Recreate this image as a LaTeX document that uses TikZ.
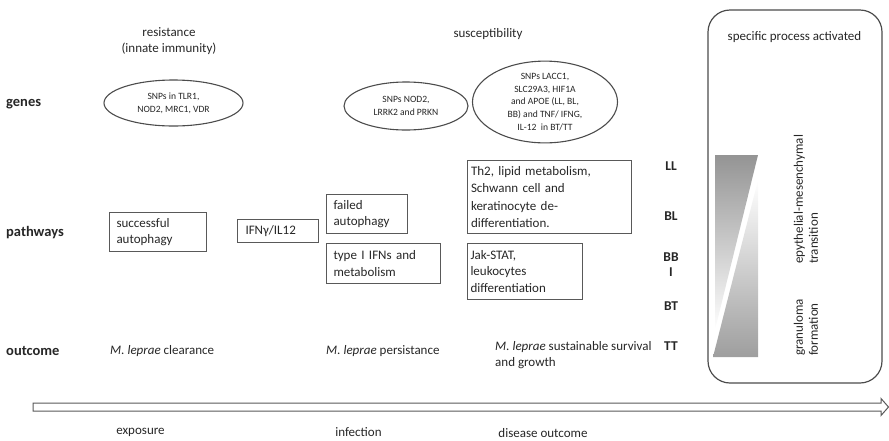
\documentclass[tikz,border=0pt]{standalone}
\usepackage{fontspec}
\setmainfont{Carlito}
\usetikzlibrary{shapes.geometric}
\begin{document}
\begin{tikzpicture}[x=1pt,y=-1pt,
  every node/.style={text=black!85, inner sep=0pt},
  txt/.style={font=\fontsize{13}{16.5}\selectfont},
  rowlbl/.style={font=\fontsize{14.5}{17}\selectfont\bfseries, anchor=west},
  formlbl/.style={font=\fontsize{13.5}{16}\selectfont\bfseries},
  gene/.style={draw=black!70, line width=1.1pt, ellipse, inner sep=0pt,
     font=\fontsize{9.6}{12.8}\selectfont, align=center},
  pbox/.style={draw=black!65, line width=1pt, font=\fontsize{13}{16.5}\selectfont,
     align=left, anchor=north west, inner ysep=0pt}
]
\useasboundingbox (0,0) rectangle (889,440);

% column headers
\node[txt, align=center] (res) at (169,41) {resistance\\(innate immunity)};
\node[txt] (sus) at (488,34) {susceptibility};

% right rounded panel
\draw[black!70, line width=1.2pt, rounded corners=22pt] (708,10) rectangle (882,383);
\node[txt] (spec) at (794.5,37) {specific process activated};

% gradient triangles
\shade[top color=black!42, bottom color=white] (715,155) -- (758,155) -- (715,330) -- cycle;
\shade[top color=white, bottom color=black!38] (758,180) -- (758,357) -- (713,357) -- cycle;

\node[txt, rotate=90, anchor=west, align=left, font=\fontsize{13}{15}\selectfont] (emt) at (806,264) {epythelial-mesenchymal\\transition};
\node[txt, rotate=90, anchor=west, align=left, font=\fontsize{13}{15}\selectfont] (gran) at (806,356) {granuloma\\formation};

% row labels
\node[rowlbl] (genes) at (6,104) {genes};
\node[rowlbl] (path) at (6,233) {pathways};
\node[rowlbl] (outc) at (6,351) {outcome};

% gene ellipses
\node[gene, minimum width=139pt, minimum height=46pt] (g1) at (173.5,103) {SNPs in TLR1,\\NOD2, MRC1, VDR};
\node[gene, minimum width=124pt, minimum height=48pt] (g2) at (406,106) {SNPs NOD2,\\LRRK2 and PRKN};
\node[gene, minimum width=145pt, minimum height=78pt] (g3) at (545,102) {SNPs LACC1,\\SLC29A3, HIF1A\\and APOE (LL, BL,\\BB) and TNF/ IFNG,\\IL-12\ \ in BT/TT};

% pathway boxes
\node[pbox, inner xsep=7pt, minimum width=97pt, minimum height=39pt, text width=83pt] (pa) at (109,212) {successful\\autophagy};
\node[pbox, inner xsep=8pt, minimum width=81pt, minimum height=23pt, text width=65pt] (pb) at (237,219) {IFNγ/IL12};
\node[pbox, inner xsep=7pt, minimum width=81pt, minimum height=39pt, text width=67pt] (pc) at (326,194) {failed\\autophagy};
\node[pbox, inner xsep=7pt, minimum width=114pt, minimum height=40pt, text width=100pt] (pd) at (326,243) {type I IFNs and\\metabolism};
\node[pbox, inner xsep=3.5pt, minimum width=164pt, minimum height=73pt, text width=157pt, font=\fontsize{13}{17.5}\selectfont] (pe) at (467,160) {Th2, lipid metabolism,\\Schwann cell and\\keratinocyte de-\\differentiation.};
\node[pbox, inner xsep=3pt, minimum width=115pt, minimum height=56pt, text width=109pt] (pf) at (467,243) {Jak-STAT,\\leukocytes\\differentiation};

% spectrum labels
\node[formlbl] (ll) at (671,166) {LL};
\node[formlbl] (bl) at (671,216) {BL};
\node[formlbl] (bb) at (671,257) {BB};
\node[formlbl] (ii) at (671,272) {I};
\node[formlbl] (bt) at (671,306) {BT};
\node[formlbl] (tt) at (671,346) {TT};

% outcomes
\node[txt, anchor=west] (o1) at (110,351.5) {\textit{M. leprae} clearance};
\node[txt, anchor=west] (o2) at (326,351.5) {\textit{M. leprae} persistance};
\node[txt, anchor=west, align=left] (o3) at (495,355) {\textit{M. leprae} sustainable survival\\and growth};

% time arrow
\draw[black!65, line width=1pt, line join=miter] (33,403) -- (881,403) -- (881,398.5) -- (888.5,407) -- (881,415.5) -- (881,411) -- (33,411) -- cycle;
\node[txt] (exp) at (140.5,432) {exposure};
\node[txt] (inf) at (358.5,432) {infection};
\node[txt] (dis) at (543,433) {disease outcome};
\end{tikzpicture}
\end{document}
